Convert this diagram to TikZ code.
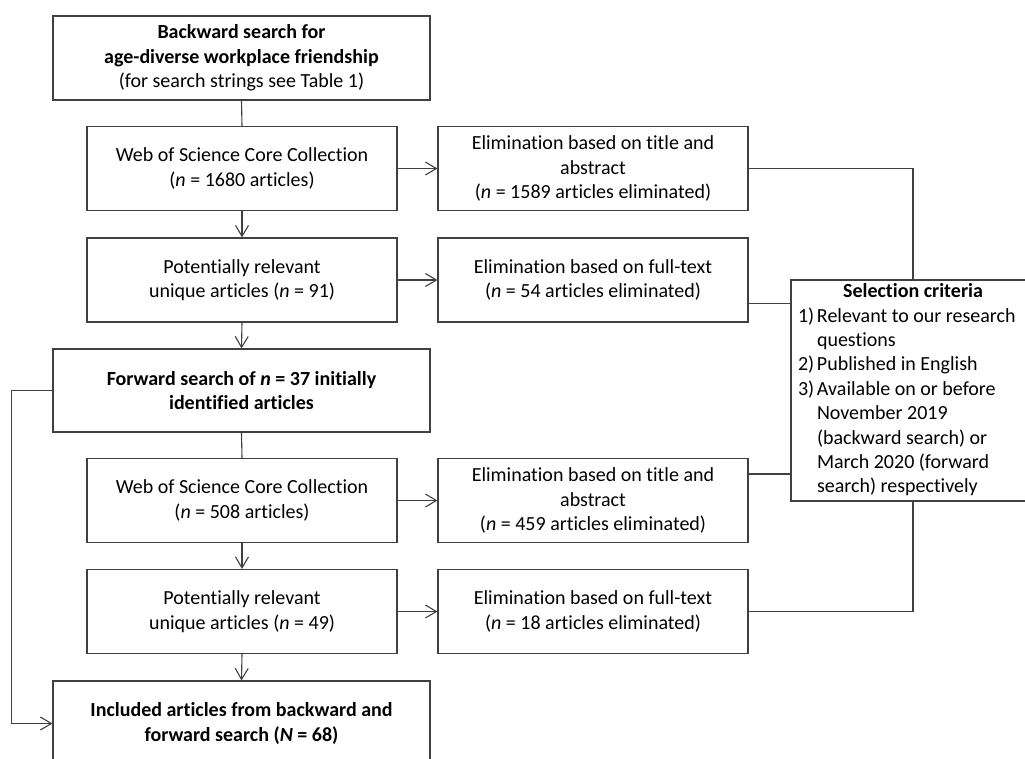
\documentclass[tikz,border=0pt]{standalone}
\usepackage{fontspec}
\setmainfont{Carlito}[Ligatures={NoCommon,NoContextual}]
\usetikzlibrary{arrows.meta,calc}
\definecolor{linegray}{HTML}{404040}
\begin{document}
\begin{tikzpicture}[x=1pt,y=-1pt,
  every node/.style={font=\fontsize{20}{24.4}\selectfont},
  box/.style={draw=linegray, line width=1.1pt, align=center, inner sep=0pt, minimum width=310pt, minimum height=84pt},
  wide/.style={box, minimum width=377pt},
  conn/.style={draw=linegray, line width=1.1pt},
  arr/.style={conn, -{Straight Barb[length=11pt,width=13pt]}}]
\useasboundingbox (0,0) rectangle (1025,758);
\clip (0,0) rectangle (1025,758);
% left column
\node[wide] (b1) at (241.5,58) {\textbf{Backward search for}\\\textbf{age-diverse workplace friendship}\\(for search strings see Table 1)};
\node[box] (b2) at (242,168.5) {Web of Science Core Collection\\(\textit{n} = 1680 articles)};
\node[box] (b3) at (242,280) {Potentially relevant\\unique articles (\textit{n} = 91)};
\node[wide, minimum height=83pt] (b4) at (241.5,390.5) {\textbf{Forward search of \textit{n} = 37 initially}\\\textbf{identified articles}};
\node[box] (b5) at (242,500.5) {Web of Science Core Collection\\(\textit{n} = 508 articles)};
\node[box] (b6) at (242,611.5) {Potentially relevant\\unique articles (\textit{n} = 49)};
\node[wide, minimum height=85pt] (b7) at (241.5,723.5) {\textbf{Included articles from backward and}\\\textbf{forward search (\textit{N} = 68)}};
% right column
\node[box] (e1) at (593,168.5) {Elimination based on title and\\abstract\\(\textit{n} = 1589 articles eliminated)};
\node[box] (e2) at (593,280) {Elimination based on full-text\\(\textit{n} = 54 articles eliminated)};
\node[box] (e3) at (593,500.5) {Elimination based on title and\\abstract\\(\textit{n} = 459 articles eliminated)};
\node[box] (e4) at (593,611.5) {Elimination based on full-text\\(\textit{n} = 18 articles eliminated)};
% selection criteria
\node[box, minimum width=244pt, minimum height=221pt] (sc) at (913,390.5) {%
\begin{tabular}{@{}p{16pt}@{\hspace{3pt}}p{211pt}@{}}
\multicolumn{2}{c}{\textbf{Selection criteria}}\\
1) & Relevant to our research\\
   & questions\\
2) & Published in English\\
3) & Available on or before\\
   & November 2019\\
   & (backward search) or\\
   & March 2020 (forward\\
   & search) respectively
\end{tabular}};
% vertical connectors
\draw[conn] (b1.south) -- (b2.north);
\draw[arr] (b2.south) -- (b3.north);
\draw[arr] (b3.south) -- (b4.north);
\draw[conn] (b4.south) -- (b5.north);
\draw[arr] (b5.south) -- (b6.north);
\draw[arr] (b6.south) -- (b7.north);
% horizontal arrows
\draw[arr] (b2.east) -- (e1.west);
\draw[arr] (b3.east) -- (e2.west);
\draw[arr] (b5.east) -- (e3.west);
\draw[arr] (b6.east) -- (e4.west);
% loop to included
\draw[arr] (b4.west) -- ++(-41,0) |- (b7.west);
% to selection criteria
\coordinate (p2) at ([yshift=-23.5pt]e2.east);
\coordinate (p3) at ([yshift=26.5pt]e3.east);
\draw[conn] (e1.east) -| (sc.north);
\draw[conn] (p2) -- (p2 -| sc.west);
\draw[conn] (p3) -- (p3 -| sc.west);
\draw[conn] (e4.east) -| (sc.south);
\end{tikzpicture}
\end{document}
